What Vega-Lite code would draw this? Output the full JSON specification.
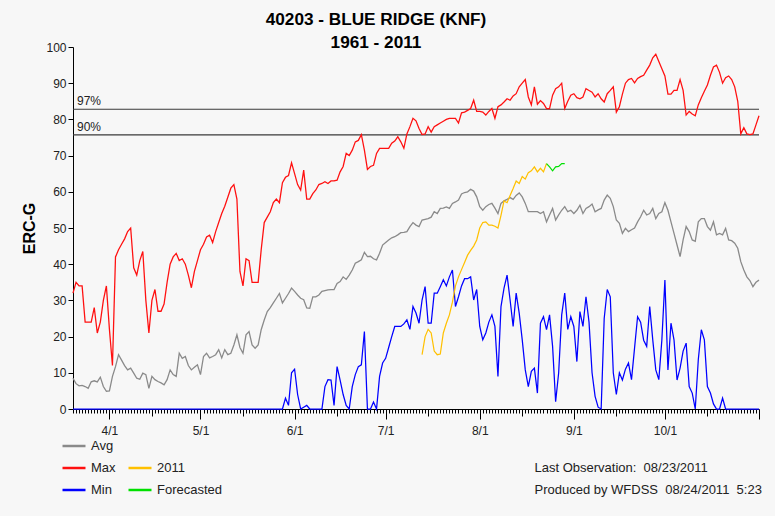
{
"$schema": "https://vega.github.io/schema/vega-lite/v6.json",
"width": 686, "height": 362,
"autosize": {"type": "none"},
"padding": {"left": 73, "top": 47, "right": 16, "bottom": 107},
"background": "#f7f7f7",
"config": {"view": {"stroke": null}, "font": "Liberation Sans",
 "axisX": {"tickCount": {"interval": "day", "step": 1},
    "labelExpr": "(utcdate(datum.value) == 1 && utcmonth(datum.value) < 10) ? (utcmonth(datum.value) + 1) + '/1' : ''",
    "labelOverlap": false, "labelFlush": false, "labelBound": false,
    "tickSize": {"condition": [{"test": "utcdate(datum.value) == 1", "value": 10}, {"test": "utcdate(datum.value) == 15", "value": 7}], "value": 4},
    "labelPadding": 6, "domainColor": "#000", "tickColor": "#000", "tickWidth": 1, "grid": false,
    "labelFontSize": 12, "labelColor": "#222", "labelFont": "Liberation Sans",
    "titleX": 461, "titleY": 62, "titleAlign": "left", "titleAnchor": "start", "titleBaseline": "alphabetic",
    "titleFontWeight": "normal", "titleFontSize": 13, "titleColor": "#222", "titleLineHeight": 22, "titleFont": "Liberation Sans"},
 "axisY": {"titleFontSize": 16, "titleFontWeight": "bold", "titleColor": "#000", "titleFont": "Liberation Sans",
    "titleX": -44, "titleY": 181, "titleAngle": -90, "titleAlign": "center", "titleBaseline": "middle",
    "tickSize": 5, "labelFontSize": 12, "labelPadding": 2,
    "labelColor": "#222", "labelFont": "Liberation Sans", "domainColor": "#000", "tickColor": "#000", "grid": false}
},
"title": {"text": "40203 - BLUE RIDGE (KNF)", "subtitle": "1961 - 2011", "anchor": "middle", "dx": -40, "offset": -10, "font": "Liberation Sans", "subtitleFont": "Liberation Sans", "fontSize": 17.2, "subtitleFontSize": 17.2, "fontWeight": "bold", "subtitleFontWeight": "bold", "color": "#000", "subtitleColor": "#000", "subtitlePadding": 6},
"datasets": {
"pct": [{"p": "97%", "val": 82.8}, {"p": "90%", "val": 75.7}],
"erc": [
{"t":"2011-03-20","Avg":8.5,"Max":32,"Min":0},
{"t":"2011-03-21","Avg":7,"Max":35,"Min":0},
{"t":"2011-03-22","Avg":6.4,"Max":34,"Min":0},
{"t":"2011-03-23","Avg":6.5,"Max":34,"Min":0},
{"t":"2011-03-24","Avg":6.2,"Max":24,"Min":0},
{"t":"2011-03-25","Avg":5.7,"Max":24,"Min":0},
{"t":"2011-03-26","Avg":7.5,"Max":24,"Min":0},
{"t":"2011-03-27","Avg":7.8,"Max":28,"Min":0},
{"t":"2011-03-28","Avg":7.5,"Max":21,"Min":0},
{"t":"2011-03-29","Avg":8.8,"Max":24,"Min":0},
{"t":"2011-03-30","Avg":6.2,"Max":30,"Min":0},
{"t":"2011-03-31","Avg":4.9,"Max":34,"Min":0},
{"t":"2011-04-01","Avg":5,"Max":22,"Min":0},
{"t":"2011-04-02","Avg":9,"Max":12,"Min":0},
{"t":"2011-04-03","Avg":11.7,"Max":42,"Min":0},
{"t":"2011-04-04","Avg":15,"Max":44,"Min":0},
{"t":"2011-04-05","Avg":13.5,"Max":45.5,"Min":0},
{"t":"2011-04-06","Avg":12,"Max":47,"Min":0},
{"t":"2011-04-07","Avg":10.8,"Max":49,"Min":0},
{"t":"2011-04-08","Avg":11.3,"Max":50,"Min":0},
{"t":"2011-04-09","Avg":9.9,"Max":39,"Min":0},
{"t":"2011-04-10","Avg":8.5,"Max":37,"Min":0},
{"t":"2011-04-11","Avg":8.2,"Max":41,"Min":0},
{"t":"2011-04-12","Avg":9.9,"Max":43.5,"Min":0},
{"t":"2011-04-13","Avg":9.5,"Max":30,"Min":0},
{"t":"2011-04-14","Avg":5.7,"Max":21,"Min":0},
{"t":"2011-04-15","Avg":9,"Max":30,"Min":0},
{"t":"2011-04-16","Avg":8.1,"Max":33,"Min":0},
{"t":"2011-04-17","Avg":7.6,"Max":27,"Min":0},
{"t":"2011-04-18","Avg":7.2,"Max":27,"Min":0},
{"t":"2011-04-19","Avg":6.7,"Max":29,"Min":0},
{"t":"2011-04-20","Avg":8.1,"Max":35,"Min":0},
{"t":"2011-04-21","Avg":10.8,"Max":40,"Min":0},
{"t":"2011-04-22","Avg":9.5,"Max":42,"Min":0},
{"t":"2011-04-23","Avg":9,"Max":43,"Min":0},
{"t":"2011-04-24","Avg":15.4,"Max":41,"Min":0},
{"t":"2011-04-25","Avg":14,"Max":41.5,"Min":0},
{"t":"2011-04-26","Avg":14.5,"Max":40,"Min":0},
{"t":"2011-04-27","Avg":12,"Max":37,"Min":0},
{"t":"2011-04-28","Avg":10.8,"Max":33.5,"Min":0},
{"t":"2011-04-29","Avg":11.5,"Max":38,"Min":0},
{"t":"2011-04-30","Avg":12.2,"Max":41,"Min":0},
{"t":"2011-05-01","Avg":9.5,"Max":44,"Min":0},
{"t":"2011-05-02","Avg":14.5,"Max":45.5,"Min":0},
{"t":"2011-05-03","Avg":15.4,"Max":47.5,"Min":0},
{"t":"2011-05-04","Avg":14.1,"Max":48,"Min":0},
{"t":"2011-05-05","Avg":14.5,"Max":46,"Min":0},
{"t":"2011-05-06","Avg":15,"Max":49,"Min":0},
{"t":"2011-05-07","Avg":16.4,"Max":51.5,"Min":0},
{"t":"2011-05-08","Avg":14.1,"Max":54,"Min":0},
{"t":"2011-05-09","Avg":16.4,"Max":56,"Min":0},
{"t":"2011-05-10","Avg":15,"Max":58.5,"Min":0},
{"t":"2011-05-11","Avg":15.4,"Max":61,"Min":0},
{"t":"2011-05-12","Avg":17.7,"Max":62,"Min":0},
{"t":"2011-05-13","Avg":20.5,"Max":58,"Min":0},
{"t":"2011-05-14","Avg":17,"Max":38,"Min":0},
{"t":"2011-05-15","Avg":15.4,"Max":34,"Min":0},
{"t":"2011-05-16","Avg":20.5,"Max":41.5,"Min":0},
{"t":"2011-05-17","Avg":21.4,"Max":41,"Min":0},
{"t":"2011-05-18","Avg":17.7,"Max":35,"Min":0},
{"t":"2011-05-19","Avg":16.8,"Max":35,"Min":0},
{"t":"2011-05-20","Avg":17.7,"Max":35,"Min":0},
{"t":"2011-05-21","Avg":21.9,"Max":44,"Min":0},
{"t":"2011-05-22","Avg":24.6,"Max":51.5,"Min":0},
{"t":"2011-05-23","Avg":26.9,"Max":53,"Min":0},
{"t":"2011-05-24","Avg":28,"Max":54.5,"Min":0},
{"t":"2011-05-25","Avg":29.3,"Max":57,"Min":0},
{"t":"2011-05-26","Avg":30.6,"Max":58,"Min":0},
{"t":"2011-05-27","Avg":31.9,"Max":57,"Min":0},
{"t":"2011-05-28","Avg":29.3,"Max":62.5,"Min":0},
{"t":"2011-05-29","Avg":30.6,"Max":64,"Min":3},
{"t":"2011-05-30","Avg":31.9,"Max":64.5,"Min":1},
{"t":"2011-05-31","Avg":33.4,"Max":68,"Min":10},
{"t":"2011-06-01","Avg":32.5,"Max":65,"Min":11},
{"t":"2011-06-02","Avg":31.5,"Max":62,"Min":4},
{"t":"2011-06-03","Avg":30.6,"Max":60.5,"Min":0},
{"t":"2011-06-04","Avg":30.2,"Max":66,"Min":0.5},
{"t":"2011-06-05","Avg":27.9,"Max":58,"Min":1},
{"t":"2011-06-06","Avg":27.8,"Max":58,"Min":0},
{"t":"2011-06-07","Avg":31,"Max":59.5,"Min":0},
{"t":"2011-06-08","Avg":31,"Max":60.5,"Min":0},
{"t":"2011-06-09","Avg":31.5,"Max":62,"Min":0},
{"t":"2011-06-10","Avg":32.5,"Max":62.3,"Min":0},
{"t":"2011-06-11","Avg":32.7,"Max":62.8,"Min":6.2},
{"t":"2011-06-12","Avg":32.9,"Max":62.3,"Min":8.1},
{"t":"2011-06-13","Avg":33,"Max":63,"Min":8},
{"t":"2011-06-14","Avg":33,"Max":63,"Min":1},
{"t":"2011-06-15","Avg":34.7,"Max":63.2,"Min":11.7},
{"t":"2011-06-16","Avg":35.2,"Max":65.5,"Min":8},
{"t":"2011-06-17","Avg":36.5,"Max":67,"Min":4},
{"t":"2011-06-18","Avg":35.8,"Max":70.6,"Min":1},
{"t":"2011-06-19","Avg":37,"Max":70,"Min":0},
{"t":"2011-06-20","Avg":38.4,"Max":71.5,"Min":6.2},
{"t":"2011-06-21","Avg":40.3,"Max":73.8,"Min":9.5},
{"t":"2011-06-22","Avg":40.7,"Max":74.2,"Min":11.7},
{"t":"2011-06-23","Avg":41.2,"Max":75.8,"Min":12.2},
{"t":"2011-06-24","Avg":43.3,"Max":71.5,"Min":21.4},
{"t":"2011-06-25","Avg":42.1,"Max":66.2,"Min":0},
{"t":"2011-06-26","Avg":42.2,"Max":67,"Min":0},
{"t":"2011-06-27","Avg":41.5,"Max":67.3,"Min":1.9},
{"t":"2011-06-28","Avg":41.2,"Max":70.6,"Min":0},
{"t":"2011-06-29","Avg":43,"Max":72,"Min":9},
{"t":"2011-06-30","Avg":45.3,"Max":72,"Min":12.7},
{"t":"2011-07-01","Avg":46,"Max":72,"Min":14},
{"t":"2011-07-02","Avg":46.7,"Max":72,"Min":17},
{"t":"2011-07-03","Avg":47.3,"Max":73.4,"Min":20},
{"t":"2011-07-04","Avg":47.6,"Max":74,"Min":22.8},
{"t":"2011-07-05","Avg":48.1,"Max":75.2,"Min":22.8},
{"t":"2011-07-06","Avg":48.7,"Max":73.8,"Min":22.8},
{"t":"2011-07-07","Avg":48.8,"Max":72,"Min":23.5},
{"t":"2011-07-08","Avg":49,"Max":76,"Min":24.6},
{"t":"2011-07-09","Avg":50.4,"Max":78,"Min":22},
{"t":"2011-07-10","Avg":51.5,"Max":80.3,"Min":28.3},
{"t":"2011-07-11","Avg":50.8,"Max":79.6,"Min":26.5},
{"t":"2011-07-12","Avg":50.4,"Max":77.5,"Min":23.7},
{"t":"2011-07-13","Avg":52.2,"Max":75.8,"Min":30.1,"2011":15},
{"t":"2011-07-14","Avg":52.4,"Max":76,"Min":33.8,"2011":20},
{"t":"2011-07-15","Avg":52.6,"Max":78,"Min":23.7,"2011":22},
{"t":"2011-07-16","Avg":53,"Max":76.5,"Min":23.7,"2011":21},
{"t":"2011-07-17","Avg":54.5,"Max":78,"Min":32,"2011":16},
{"t":"2011-07-18","Avg":54,"Max":78.5,"Min":32,"2011":15},
{"t":"2011-07-19","Avg":55.4,"Max":79,"Min":33.8,"2011":15.2},
{"t":"2011-07-20","Avg":55.5,"Max":79.5,"Min":35.7,"2011":21},
{"t":"2011-07-21","Avg":55.8,"Max":80,"Min":34,"2011":23.7},
{"t":"2011-07-22","Avg":55.4,"Max":80.3,"Min":36.5,"2011":26},
{"t":"2011-07-23","Avg":56.8,"Max":80.3,"Min":38.4,"2011":29.5},
{"t":"2011-07-24","Avg":57.2,"Max":80.3,"Min":28.3,"2011":34},
{"t":"2011-07-25","Avg":57.7,"Max":79,"Min":31,"2011":36.5},
{"t":"2011-07-26","Avg":59.4,"Max":81.8,"Min":34,"2011":38.5},
{"t":"2011-07-27","Avg":59.8,"Max":82,"Min":36,"2011":40.5},
{"t":"2011-07-28","Avg":60,"Max":82.5,"Min":36,"2011":42.5},
{"t":"2011-07-29","Avg":60.7,"Max":83,"Min":36.5,"2011":43.8},
{"t":"2011-07-30","Avg":60.2,"Max":85.3,"Min":30.1,"2011":45},
{"t":"2011-07-31","Avg":58.6,"Max":82.2,"Min":33,"2011":46.7},
{"t":"2011-08-01","Avg":55.9,"Max":82.2,"Min":22.8,"2011":50},
{"t":"2011-08-02","Avg":54.9,"Max":82,"Min":19.1,"2011":51.5},
{"t":"2011-08-03","Avg":55.9,"Max":81.2,"Min":21,"2011":51.7},
{"t":"2011-08-04","Avg":56.5,"Max":82.2,"Min":24,"2011":50.8},
{"t":"2011-08-05","Avg":56.8,"Max":83,"Min":26,"2011":50.8},
{"t":"2011-08-06","Avg":55.5,"Max":80.3,"Min":22.8,"2011":50.5},
{"t":"2011-08-07","Avg":54,"Max":83.5,"Min":9,"2011":50},
{"t":"2011-08-08","Avg":56.8,"Max":84,"Min":28.3,"2011":53.5},
{"t":"2011-08-09","Avg":57.5,"Max":84.8,"Min":33.4,"2011":57.5},
{"t":"2011-08-10","Avg":57.9,"Max":85.7,"Min":37,"2011":57},
{"t":"2011-08-11","Avg":58.4,"Max":85.3,"Min":30.1,"2011":59},
{"t":"2011-08-12","Avg":57.9,"Max":86.5,"Min":22.8,"2011":60.9},
{"t":"2011-08-13","Avg":59,"Max":87.1,"Min":32,"2011":63},
{"t":"2011-08-14","Avg":59.7,"Max":89,"Min":26.5,"2011":62.3},
{"t":"2011-08-15","Avg":58.6,"Max":90,"Min":19.1,"2011":64.2},
{"t":"2011-08-16","Avg":56.8,"Max":91,"Min":10.8,"2011":63.5},
{"t":"2011-08-17","Avg":54.5,"Max":86.2,"Min":6.2,"2011":65.3},
{"t":"2011-08-18","Avg":54.5,"Max":84,"Min":10.4,"2011":65.8},
{"t":"2011-08-19","Avg":54.5,"Max":89,"Min":11.3,"2011":66.9},
{"t":"2011-08-20","Avg":54.5,"Max":84.2,"Min":4.4,"2011":65.5},
{"t":"2011-08-21","Avg":54,"Max":85.2,"Min":23.7,"2011":66.5},
{"t":"2011-08-22","Avg":54.5,"Max":84.4,"Min":25.5,"2011":65.5},
{"t":"2011-08-23","Avg":51.7,"Max":83,"Min":21.9,"2011":67.8,"Forecasted":67.8},
{"t":"2011-08-24","Avg":53.6,"Max":83,"Min":26,"Forecasted":66.9},
{"t":"2011-08-25","Avg":55.4,"Max":86.7,"Min":17.3,"Forecasted":65.8},
{"t":"2011-08-26","Avg":52.2,"Max":88.5,"Min":2,"Forecasted":66.9},
{"t":"2011-08-27","Avg":53.6,"Max":89,"Min":10,"Forecasted":67},
{"t":"2011-08-28","Avg":54.9,"Max":90,"Min":26,"Forecasted":67.8},
{"t":"2011-08-29","Avg":55.9,"Max":83,"Min":32,"Forecasted":67.8},
{"t":"2011-08-30","Avg":54.5,"Max":85,"Min":22},
{"t":"2011-08-31","Avg":54.9,"Max":86.7,"Min":25.5},
{"t":"2011-09-01","Avg":54,"Max":87.1,"Min":22.8},
{"t":"2011-09-02","Avg":54.9,"Max":86,"Min":13.1},
{"t":"2011-09-03","Avg":56.3,"Max":85.7,"Min":26.9},
{"t":"2011-09-04","Avg":54,"Max":86.2,"Min":22.8},
{"t":"2011-09-05","Avg":55.4,"Max":88.5,"Min":31},
{"t":"2011-09-06","Avg":55.9,"Max":88,"Min":24},
{"t":"2011-09-07","Avg":56.6,"Max":87.5,"Min":10},
{"t":"2011-09-08","Avg":54.5,"Max":86.2,"Min":3.5},
{"t":"2011-09-09","Avg":55,"Max":87.1,"Min":0.5},
{"t":"2011-09-10","Avg":55.4,"Max":85.7,"Min":0},
{"t":"2011-09-11","Avg":57.7,"Max":84.8,"Min":25},
{"t":"2011-09-12","Avg":59.1,"Max":87.1,"Min":33},
{"t":"2011-09-13","Avg":58.2,"Max":88,"Min":31},
{"t":"2011-09-14","Avg":55.9,"Max":89,"Min":10},
{"t":"2011-09-15","Avg":52.2,"Max":82,"Min":4},
{"t":"2011-09-16","Avg":51.3,"Max":83.5,"Min":10},
{"t":"2011-09-17","Avg":48.5,"Max":87,"Min":8},
{"t":"2011-09-18","Avg":49.9,"Max":90,"Min":11},
{"t":"2011-09-19","Avg":49,"Max":91,"Min":12.7},
{"t":"2011-09-20","Avg":49.5,"Max":91.3,"Min":8.1},
{"t":"2011-09-21","Avg":50,"Max":90.1,"Min":16.8},
{"t":"2011-09-22","Avg":51.7,"Max":91.3,"Min":25.5},
{"t":"2011-09-23","Avg":53.1,"Max":91.8,"Min":24},
{"t":"2011-09-24","Avg":54.9,"Max":92.2,"Min":19},
{"t":"2011-09-25","Avg":53.6,"Max":93.6,"Min":17.3},
{"t":"2011-09-26","Avg":54,"Max":95,"Min":28.3},
{"t":"2011-09-27","Avg":55.4,"Max":97,"Min":19.1},
{"t":"2011-09-28","Avg":52.6,"Max":98,"Min":10.8},
{"t":"2011-09-29","Avg":54,"Max":96,"Min":8.1},
{"t":"2011-09-30","Avg":54.5,"Max":94,"Min":19.1},
{"t":"2011-10-01","Avg":57,"Max":92,"Min":35.6},
{"t":"2011-10-02","Avg":54.9,"Max":87,"Min":10.8},
{"t":"2011-10-03","Avg":51.7,"Max":87,"Min":23.7},
{"t":"2011-10-04","Avg":48.5,"Max":88,"Min":19.1},
{"t":"2011-10-05","Avg":45.3,"Max":88,"Min":8},
{"t":"2011-10-06","Avg":42.1,"Max":91,"Min":11.3},
{"t":"2011-10-07","Avg":46.7,"Max":88,"Min":16},
{"t":"2011-10-08","Avg":50.4,"Max":81.2,"Min":18.2},
{"t":"2011-10-09","Avg":49,"Max":82.2,"Min":6.2},
{"t":"2011-10-10","Avg":46.7,"Max":81.5,"Min":4.4},
{"t":"2011-10-11","Avg":46.3,"Max":81,"Min":0},
{"t":"2011-10-12","Avg":51.7,"Max":84,"Min":13.6},
{"t":"2011-10-13","Avg":52.6,"Max":86,"Min":21.9},
{"t":"2011-10-14","Avg":52.6,"Max":87.8,"Min":19.1},
{"t":"2011-10-15","Avg":50.4,"Max":89.5,"Min":6.2},
{"t":"2011-10-16","Avg":49.4,"Max":92.2,"Min":4.4},
{"t":"2011-10-17","Avg":51.7,"Max":94.5,"Min":1.4},
{"t":"2011-10-18","Avg":48.1,"Max":95,"Min":0},
{"t":"2011-10-19","Avg":48.5,"Max":93,"Min":0},
{"t":"2011-10-20","Avg":48.1,"Max":90,"Min":3},
{"t":"2011-10-21","Avg":49.9,"Max":91.5,"Min":0},
{"t":"2011-10-22","Avg":46.7,"Max":92,"Min":0},
{"t":"2011-10-23","Avg":46.5,"Max":91,"Min":0},
{"t":"2011-10-24","Avg":45.8,"Max":89,"Min":0},
{"t":"2011-10-25","Avg":44.4,"Max":85,"Min":0},
{"t":"2011-10-26","Avg":40.7,"Max":76,"Min":0},
{"t":"2011-10-27","Avg":38.4,"Max":77.7,"Min":0},
{"t":"2011-10-28","Avg":36.5,"Max":76,"Min":0},
{"t":"2011-10-29","Avg":35.5,"Max":75.8,"Min":0},
{"t":"2011-10-30","Avg":33.8,"Max":76,"Min":0},
{"t":"2011-10-31","Avg":35,"Max":78.5,"Min":0},
{"t":"2011-11-01","Avg":35.6,"Max":81,"Min":0}
]},
"encoding": {
 "y": {"field": "val", "type": "quantitative", "scale": {"domain": [0, 100], "nice": false},
  "axis": {"title": "ERC-G", "values": [0, 10, 20, 30, 40, 50, 60, 70, 80, 90, 100]}}
},
"layer": [
{"data": {"name": "pct"},
 "mark": {"type": "rule", "stroke": "#3a3a3a", "strokeWidth": 1.2}},
{"data": {"name": "pct"},
 "mark": {"type": "text", "align": "left", "baseline": "alphabetic", "dx": 4, "dy": -4, "fontSize": 12, "color": "#222", "font": "Liberation Sans"},
 "encoding": {
  "x": {"datum": {"year": 2011, "month": 3, "date": 20, "utc": true}, "type": "temporal",
   "scale": {"type": "utc", "domain": [{"year": 2011, "month": 3, "date": 20, "utc": true}, {"year": 2011, "month": 11, "date": 1, "utc": true}]},
   "axis": {"title": ["Last Observation:\u00a0 08/23/2011", "Produced by WFDSS\u00a0 08/24/2011\u00a0 5:23"]}},
  "text": {"field": "p"}}},
{"data": {"name": "erc"},
 "transform": [
  {"fold": ["Avg", "Max", "Min", "2011", "Forecasted"], "as": ["key", "val"]},
  {"filter": "isValid(datum.val)"}
 ],
 "mark": {"type": "line", "interpolate": "linear"},
 "encoding": {
  "x": {"field": "t", "type": "temporal",
   "scale": {"type": "utc", "domain": [{"year": 2011, "month": 3, "date": 20, "utc": true}, {"year": 2011, "month": 11, "date": 1, "utc": true}]},
   "axis": {"title": ["Last Observation:\u00a0 08/23/2011", "Produced by WFDSS\u00a0 08/24/2011\u00a0 5:23"]}},
  "color": {"field": "key", "type": "nominal",
   "scale": {"domain": ["Avg", "Max", "Min", " ", "2011", "Forecasted"], "range": ["#8a8a8a", "#ff1010", "#0000ff", "rgba(0,0,0,0)", "#ffc000", "#00e000"]},
   "legend": {"title": null, "orient": "none", "legendX": -12, "legendY": 386, "columns": 2, "symbolType": "stroke", "symbolSize": 529, "symbolStrokeWidth": 2.5,
    "labelFontSize": 13, "labelColor": "#222", "labelFont": "Liberation Sans", "labelOffset": 4, "columnPadding": 7, "rowPadding": 2, "padding": 0}},
  "strokeWidth": {"field": "key", "type": "nominal", "scale": {"domain": ["Avg", "Max", "Min", "2011", "Forecasted"], "range": [1.3, 1.2, 1.2, 2.4, 1.6]}, "legend": null}
 }}
]
}
